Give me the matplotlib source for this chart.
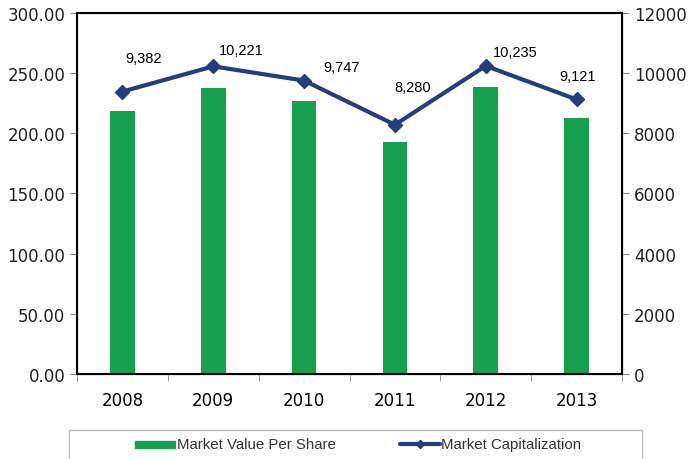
import matplotlib

matplotlib.use("Agg")

import matplotlib.pyplot as plt
from matplotlib.lines import Line2D
from matplotlib.patches import Rectangle

years = ["2008", "2009", "2010", "2011", "2012", "2013"]
value_per_share = [218.5, 237.8, 227.0, 192.6, 238.5, 212.5]
market_cap = [9382, 10221, 9747, 8280, 10235, 9121]
cap_labels = ["9,382", "10,221", "9,747", "8,280", "10,235", "9,121"]
# label offsets (points) relative to each marker
label_offsets = [(15, 24), (20, 12), (27, 10), (13, 27), (21, 10), (1, 17)]

green = "#16A04F"
navy = "#233E7D"

fig = plt.figure(figsize=(6.88, 4.6), dpi=100)
ax = fig.add_axes([0.112, 0.185, 0.792, 0.785])
x = range(len(years))

ax.bar(x, value_per_share, width=0.27, color=green, zorder=2)
ax.set_xlim(-0.5, len(years) - 0.5)
ax.set_ylim(0, 300)
ax.set_yticks([0, 50, 100, 150, 200, 250, 300])
ax.set_yticklabels([f"{v:.2f}" for v in ax.get_yticks()])
ax.set_xticks(list(x))
ax.set_xticklabels(years)
ax.set_xticks([i - 0.5 for i in range(len(years) + 1)], minor=True)
ax.tick_params(axis="x", which="major", length=0, pad=12, labelsize=12)
ax.tick_params(axis="x", which="minor", length=5, color="#888888", direction="out")
ax.tick_params(axis="y", length=5, color="#888888", labelsize=12, labelcolor="#222222")
for s in ax.spines.values():
    s.set_linewidth(1.5)

ax2 = ax.twinx()
ax2.plot(x, market_cap, color=navy, linewidth=3, marker="D", markersize=7, zorder=3)
ax2.set_ylim(0, 12000)
ax2.set_yticks([0, 2000, 4000, 6000, 8000, 10000, 12000])
ax2.tick_params(axis="y", length=5, color="#888888", labelsize=12, labelcolor="#222222")

for i, (v, lab) in enumerate(zip(market_cap, cap_labels)):
    ax2.annotate(lab, (i, v), xytext=label_offsets[i], textcoords="offset points",
                 ha="center", va="center", fontsize=10.5, family="Liberation Sans")

# legend box
ly = 1 - 445 / 460
fig.patches.append(Rectangle((69 / 688, -0.01), (642 - 69) / 688, (460 - 431) / 460 + 0.01,
                             transform=fig.transFigure, fill=False,
                             edgecolor="#BBBBBB", linewidth=1))
fig.patches.append(Rectangle((135 / 688, ly - 3.5 / 460), 40 / 688, 7 / 460,
                             transform=fig.transFigure, color=green))
fig.text(177 / 688, ly, "Market Value Per Share", fontsize=10.8,
         family="Liberation Sans", va="center", color="#333333")
fig.add_artist(Line2D([400 / 688, 420 / 688, 440 / 688], [ly, ly, ly],
                      transform=fig.transFigure, color=navy, linewidth=3,
                      marker="D", markersize=4, markevery=[1],
                      solid_capstyle="round"))
fig.text(441 / 688, ly, "Market Capitalization", fontsize=10.8,
         family="Liberation Sans", va="center", color="#333333")

fig.savefig("out.png", dpi=100)
